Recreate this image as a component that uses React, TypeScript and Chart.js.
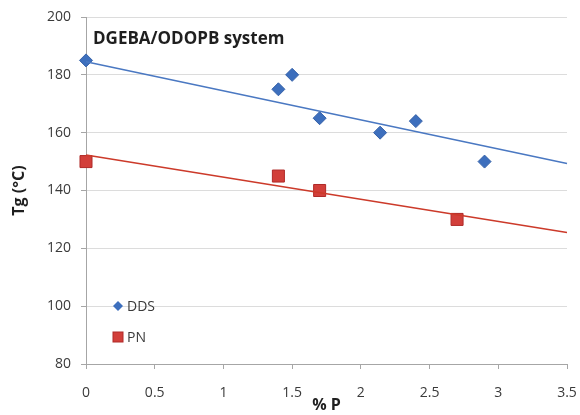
import React, { useEffect, useRef } from "react";
import { Chart, registerables } from "chart.js";

Chart.register(...registerables);

const chartTitle = "DGEBA/ODOPB system";
const xTitle = "% P";
const yTitle = "Tg (°C)";

const ddsLabel = "DDS";
const ddsX = [0, 1.4, 1.5, 1.7, 2.14, 2.4, 2.9];
const ddsY = [185, 175, 180, 165, 160, 164, 150];

const pnLabel = "PN";
const pnX = [0, 1.4, 1.7, 2.7];
const pnY = [150, 145, 140, 130];

const trendX = [0, 3.5];
const ddsTrendY = [184.5, 149.3];
const pnTrendY = [152.3, 125.5];

const xMin = 0;
const xMax = 3.5;
const xStep = 0.5;
const yMin = 80;
const yMax = 200;
const yStep = 20;

const BLUE = "#3d6fbd";
const BLUE_LINE = "#4a78c2";
const RED = "#d23f3a";
const RED_BORDER = "#b02a28";
const RED_LINE = "#cc3a2a";
const FONT = "'Open Sans', 'DejaVu Sans', sans-serif";

const pts = (xs: number[], ys: number[]) => xs.map((x, i) => ({ x, y: ys[i] }));

const overlayPlugin = {
  id: "overlay",
  afterDraw(chart: any) {
    const { ctx, chartArea } = chart;
    ctx.save();
    ctx.fillStyle = "#1f1f1f";
    ctx.font = `bold 17px ${FONT}`;
    ctx.textBaseline = "middle";
    ctx.textAlign = "left";
    ctx.fillText(chartTitle, chartArea.left + 7, chartArea.top + 22);

    const lx = chartArea.left + 32;
    const ly1 = chartArea.bottom - 58;
    const ly2 = chartArea.bottom - 27;
    ctx.fillStyle = BLUE;
    ctx.beginPath();
    ctx.moveTo(lx, ly1 - 5);
    ctx.lineTo(lx + 5, ly1);
    ctx.lineTo(lx, ly1 + 5);
    ctx.lineTo(lx - 5, ly1);
    ctx.closePath();
    ctx.fill();
    ctx.fillStyle = RED;
    ctx.strokeStyle = RED_BORDER;
    ctx.lineWidth = 1;
    ctx.fillRect(lx - 5, ly2 - 5, 10, 10);
    ctx.strokeRect(lx - 5, ly2 - 5, 10, 10);
    ctx.fillStyle = "#3a3a3a";
    ctx.font = `14px ${FONT}`;
    ctx.fillText(ddsLabel, lx + 9, ly1 + 1);
    ctx.fillText(pnLabel, lx + 9, ly2 + 1);
    ctx.restore();
  },
};

export default function App() {
  const ref = useRef<HTMLCanvasElement | null>(null);

  useEffect(() => {
    document.body.style.margin = "0";
    const chart = new Chart(ref.current as HTMLCanvasElement, {
      type: "scatter",
      data: {
        datasets: [
          {
            label: ddsLabel + " trend",
            data: pts(trendX, ddsTrendY),
            showLine: true,
            borderColor: BLUE_LINE,
            borderWidth: 1.5,
            pointRadius: 0,
            fill: false,
            clip: false,
          },
          {
            label: pnLabel + " trend",
            data: pts(trendX, pnTrendY),
            showLine: true,
            borderColor: RED_LINE,
            borderWidth: 1.5,
            pointRadius: 0,
            fill: false,
            clip: false,
          },
          {
            label: ddsLabel,
            data: pts(ddsX, ddsY),
            pointStyle: "rectRot",
            pointRadius: 6.5,
            backgroundColor: BLUE,
            borderColor: "#3561a8",
            borderWidth: 1,
            clip: false,
          },
          {
            label: pnLabel,
            data: pts(pnX, pnY),
            pointStyle: "rect",
            pointRadius: 8.5,
            backgroundColor: RED,
            borderColor: RED_BORDER,
            borderWidth: 1,
            clip: false,
          },
        ],
      },
      options: {
        animation: false,
        responsive: false,
        maintainAspectRatio: false,
        layout: { padding: { left: 0, top: 17, right: 13, bottom: 0 } },
        plugins: {
          legend: { display: false },
          tooltip: { enabled: false },
        },
        scales: {
          x: {
            type: "linear",
            min: xMin,
            max: xMax,
            ticks: {
              stepSize: xStep,
              color: "#3a3a3a",
              font: { family: FONT, size: 14 },
              padding: 16,
              maxRotation: 0,
              autoSkip: false,
              callback: (v: any) => String(Number(v)),
            },
            grid: {
              drawOnChartArea: false,
              drawTicks: true,
              tickLength: 5,
              color: "#a6a6a6",
            },
            border: { color: "#a6a6a6", width: 1 },
            title: {
              display: true,
              text: xTitle,
              color: "#1f1f1f",
              font: { family: FONT, size: 16, weight: "bold" },
              padding: { top: 0, bottom: 0 },
            },
            afterFit: (s: any) => {
              s.height = 51;
              s.paddingLeft = 0;
              s.paddingRight = 0;
            },
          },
          y: {
            type: "linear",
            min: yMin,
            max: yMax,
            ticks: {
              stepSize: yStep,
              color: "#3a3a3a",
              font: { family: FONT, size: 14 },
              padding: 10,
            },
            grid: {
              color: "#dcdcdc",
              tickColor: "#a6a6a6",
              tickLength: 5,
            },
            border: { color: "#a6a6a6", width: 1 },
            title: {
              display: true,
              text: yTitle,
              color: "#1f1f1f",
              font: { family: FONT, size: 16, weight: "bold" },
              padding: { top: 10, bottom: 0 },
            },
            afterFit: (s: any) => {
              s.width = 86;
              s.paddingTop = 0;
              s.paddingBottom = 0;
            },
          },
        },
      },
      plugins: [overlayPlugin],
    } as any);
    return () => chart.destroy();
  }, []);

  return (
    <div style={{ position: "absolute", left: 0, top: 0, width: 580, height: 415, background: "#fff" }}>
      <canvas ref={ref} width={580} height={415} style={{ display: "block" }} />
    </div>
  );
}
